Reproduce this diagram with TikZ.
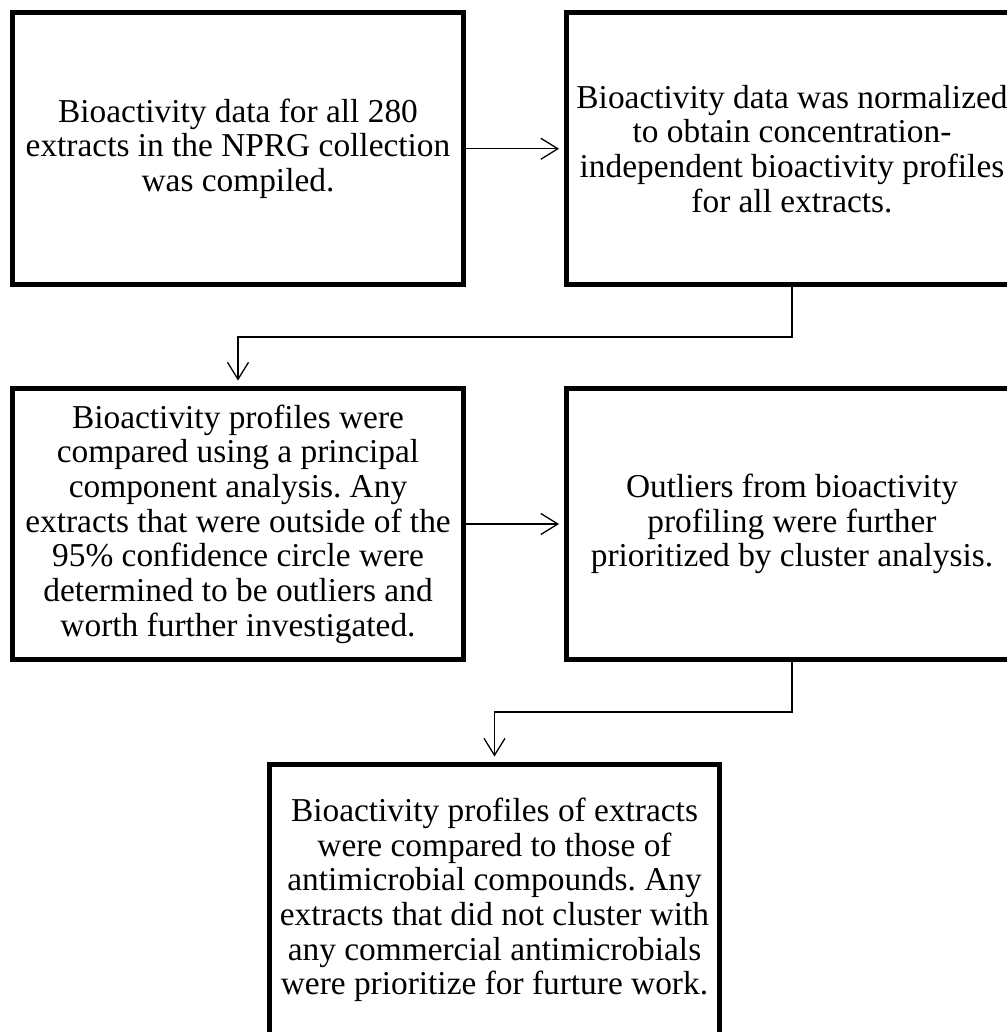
\documentclass[tikz,border=0pt]{standalone}
\usepackage{fontspec}
\setmainfont{Liberation Serif}
\usetikzlibrary{arrows.meta}
\frenchspacing

\begin{document}
\begin{tikzpicture}[x=0.02cm,y=-0.02cm,
  procbox/.style={draw=black, line width=0.1cm, minimum width=9.02cm, minimum height=5.44cm,
    align=center, inner sep=0pt, font=\fontsize{19pt}{19.75pt}\selectfont},
  flow/.style={black, line width=0.026cm, -{Straight Barb[length=0.34cm,width=0.42cm]}, shorten >=0.1cm}]
\useasboundingbox (0,0) rectangle (1007,1032);

\node[procbox] (data) at (238,148.75) {Bioactivity data for all 280\\extracts in the NPRG collection\\was compiled.};
\node[procbox] (norm) at (792,148.75) {Bioactivity data was normalized\\to obtain concentration-\\independent bioactivity profiles\\for all extracts.};
\node[procbox] (pca) at (238,524) {Bioactivity profiles were\\compared using a principal\\component analysis. Any\\extracts that were outside of the\\95\% confidence circle were\\determined to be outliers and\\worth further investigated.};
\node[procbox] (outl) at (792,524) {Outliers from bioactivity\\profiling were further\\prioritized by cluster analysis.};
\node[procbox] (clus) at (494.5,900) {Bioactivity profiles of extracts\\were compared to those of\\antimicrobial compounds. Any\\extracts that did not cluster with\\any commercial antimicrobials\\were prioritize for furture work.};

\coordinate (k1) at (792,337);
\coordinate (k2) at (792,712);

\draw[flow] (data.east) -- (norm.west);
\draw[flow] (norm.south) -- (k1) -| (pca.north);
\draw[flow] (pca.east) -- (outl.west);
\draw[flow] (outl.south) -- (k2) -| (clus.north);
\end{tikzpicture}
\end{document}
